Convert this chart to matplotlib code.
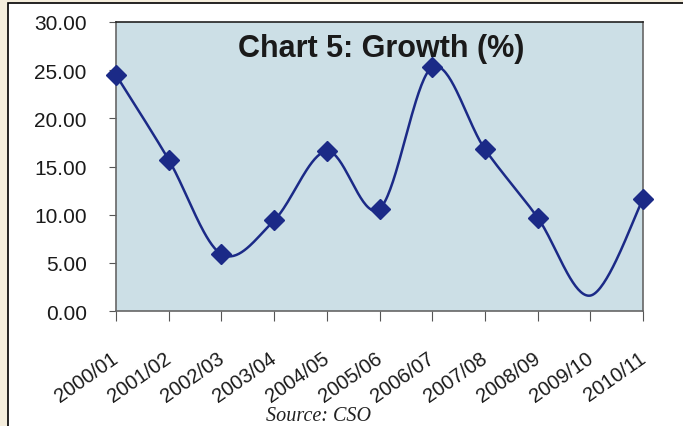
import numpy as np
import matplotlib.pyplot as plt
import matplotlib.transforms as mtransforms
from matplotlib.patches import Rectangle

years = ["2000/01", "2001/02", "2002/03", "2003/04", "2004/05", "2005/06",
         "2006/07", "2007/08", "2008/09", "2009/10", "2010/11"]
growth = [24.5, 15.7, 5.9, 9.4, 16.6, 10.6, 25.3, 16.8, 9.7, 1.6, 11.6]
# 2009/10 is drawn without a marker in the original
marked = [0, 1, 2, 3, 4, 5, 6, 7, 8, 10]
yticks = [0, 5, 10, 15, 20, 25, 30]

navy = "#1b2a87"


def smooth_line(xs, ys, steps=40):
    # Excel-style smoothed line: cubic bezier through each point
    pts = np.column_stack([xs, ys]).astype(float)
    ext = np.vstack([pts[0], pts, pts[-1]])
    out = []
    for i in range(len(pts) - 1):
        p0, p1, p2, p3 = ext[i], ext[i + 1], ext[i + 2], ext[i + 3]
        c1 = p1 + (p2 - p0) / 6.0
        c2 = p2 - (p3 - p1) / 6.0
        t = np.linspace(0, 1, steps)[:, None]
        seg = ((1 - t) ** 3) * p1 + 3 * ((1 - t) ** 2) * t * c1 \
            + 3 * (1 - t) * t ** 2 * c2 + t ** 3 * p2
        out.append(seg if i == 0 else seg[1:])
    out = np.vstack(out)
    return out[:, 0], out[:, 1]


plt.rcParams["font.family"] = ["Liberation Sans", "DejaVu Sans"]

fig = plt.figure(figsize=(6.83, 4.27), dpi=100, facecolor="#f5eedd")
fig.patches.append(Rectangle((8 / 683, -0.1), 1.0, 1.1 - 4 / 427,
                             transform=fig.transFigure, facecolor="white",
                             edgecolor="black", linewidth=1.2, zorder=-1))

ax = fig.add_axes([116 / 683, 1 - 312 / 427, 527 / 683, 289 / 427])
ax.set_facecolor("#ccdfe6")

x = np.arange(len(years))
sx, sy = smooth_line(x, growth)
ax.plot(sx, sy, color=navy, linewidth=1.8, zorder=3)
ax.plot(x[marked], np.array(growth)[marked], linestyle="none", marker="D",
        markersize=10, color=navy, zorder=4, clip_on=False)

ax.set_xlim(0, len(years) - 1)
ax.set_ylim(0, 30)
ax.set_yticks(yticks)
ax.set_yticklabels(["%.2f" % v for v in yticks], fontsize=15, color="#1a1a1a")
ax.set_xticks(x)
ax.set_xticklabels(years, fontsize=14.5, rotation=35, ha="right",
                   rotation_mode="anchor", color="#1a1a1a")
ax.tick_params(axis="y", direction="out", length=5, pad=16, color="#555555")
ax.tick_params(axis="x", direction="out", length=7, pad=20, color="#555555")

shift = mtransforms.ScaledTranslation(-5 / 100, 0, fig.dpi_scale_trans)
for lab in ax.get_xticklabels():
    lab.set_transform(lab.get_transform() + shift)

for side in ["left", "bottom", "right"]:
    ax.spines[side].set_color("#666666")
    ax.spines[side].set_linewidth(1.2)
ax.spines["top"].set_color("#222222")
ax.spines["top"].set_linewidth(1.2)

ax.text(0.503, 0.882, "Chart 5: Growth (%)", transform=ax.transAxes,
        ha="center", va="baseline", fontsize=22, fontweight="bold",
        color="#1a1a1a")

fig.text(318 / 683, 6 / 427, "Source: CSO", ha="center", va="baseline",
         fontsize=14.5, style="italic", family="Liberation Serif",
         color="#222222")

fig.savefig("out.png", dpi=100, facecolor=fig.get_facecolor())
